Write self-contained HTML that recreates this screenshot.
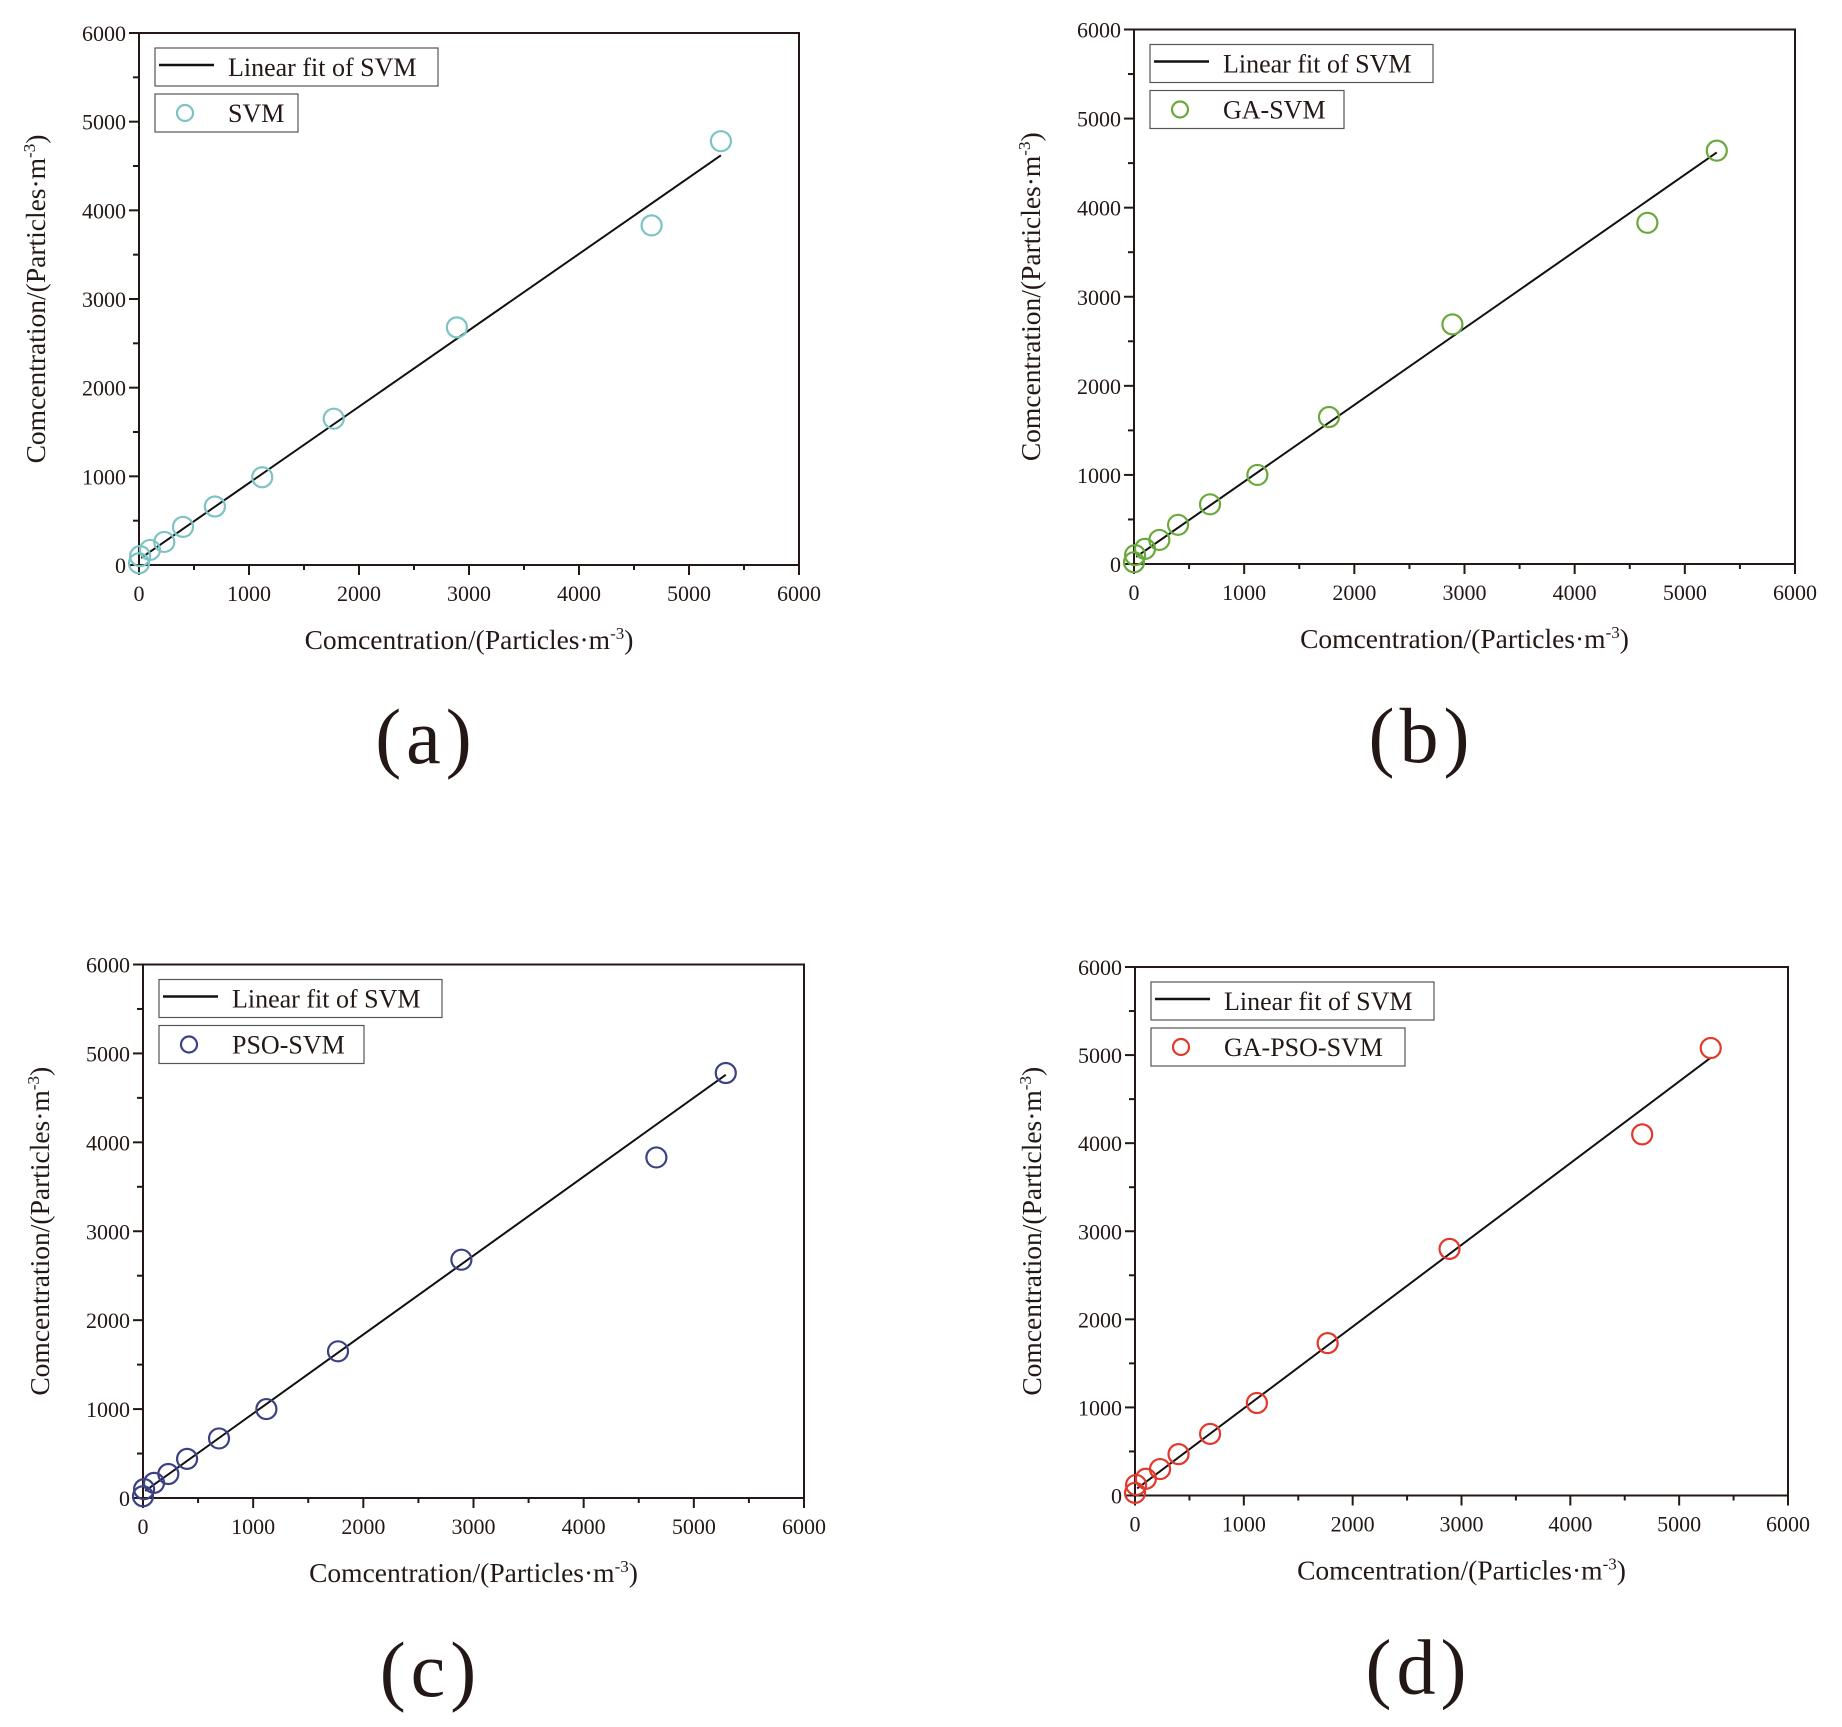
<!DOCTYPE html>
<html><head><meta charset="utf-8">
<style>
html,body{margin:0;padding:0;background:#fff;}
svg text{font-family:"Liberation Serif",serif;fill:#231815;}
</style></head>
<body>
<svg id="s" width="1842" height="1722" viewBox="0 0 1842 1722" xmlns="http://www.w3.org/2000/svg"></svg>
<script>
const NS="http://www.w3.org/2000/svg";
const svg=document.getElementById('s');
function el(t,a,txt){const e=document.createElementNS(NS,t);for(const k in a)e.setAttribute(k,a[k]);if(txt!==undefined)e.textContent=txt;svg.appendChild(e);return e;}
const xs=[0,10,100,230,400,690,1120,1770,2890,4660,5290];
const panels=[
 {L:139,T:33,R:799,B:565,c:'#7dc3c3',name:'SVM',lab:'(a)',ys:[20,100,170,260,430,660,990,1650,2680,3830,4780],fit:[80,4620],lw:143},
 {L:1134,T:29.5,R:1795,B:564,c:'#6aa83c',name:'GA-SVM',lab:'(b)',ys:[20,100,170,270,440,670,1000,1650,2690,3830,4640],fit:[80,4620],lw:194},
 {L:143,T:964.5,R:804,B:1498,c:'#3b4183',name:'PSO-SVM',lab:'(c)',ys:[20,100,170,270,440,670,1000,1650,2680,3830,4780],fit:[80,4760],lw:205},
 {L:1135,T:967,R:1788,B:1495.5,c:'#e2392c',name:'GA-PSO-SVM',lab:'(d)',ys:[30,120,190,300,470,700,1050,1730,2800,4100,5080],fit:[80,4970],lw:254}
];
for(const p of panels){
 const X=v=>p.L+(p.R-p.L)*v/6000, Y=v=>p.B-(p.B-p.T)*v/6000;
 el('rect',{x:p.L,y:p.T,width:p.R-p.L,height:p.B-p.T,fill:'none',stroke:'#231815','stroke-width':2});
 for(let v=0;v<=6000;v+=500){
  const maj=v%1000===0;
  el('line',{x1:X(v),x2:X(v),y1:p.B,y2:p.B+(maj?10:5),stroke:'#231815','stroke-width':2});
  el('line',{y1:Y(v),y2:Y(v),x1:p.L,x2:p.L-(maj?10:6),stroke:'#231815','stroke-width':2});
  if(maj){
   el('text',{x:X(v),y:p.B+36,'font-size':22,'text-anchor':'middle'},String(v));
   el('text',{x:p.L-13,y:Y(v)+8,'font-size':22,'text-anchor':'end'},String(v));
  }
 }
 const cx=(p.L+p.R)/2;
 const t=el('text',{x:cx,y:p.B+84,'font-size':27.5,'text-anchor':'middle'});
 t.innerHTML='Comcentration/(Particles·m<tspan dy="-10" font-size="17">-3</tspan><tspan dy="10">)</tspan>';
 const cy=(p.T+p.B)/2;
 const t2=el('text',{x:0,y:0,'font-size':27.5,'text-anchor':'middle',transform:`translate(${p.L-94},${cy}) rotate(-90)`});
 t2.innerHTML='Comcentration/(Particles·m<tspan dy="-10" font-size="17">-3</tspan><tspan dy="10">)</tspan>';
 el('text',{x:cx-43,y:p.B+198,'font-size':78,'text-anchor':'middle','letter-spacing':5},p.lab);
 el('line',{x1:X(20),y1:Y(p.fit[0]),x2:X(5290),y2:Y(p.fit[1]),stroke:'#111','stroke-width':2});
 for(let i=0;i<xs.length;i++) el('circle',{cx:X(xs[i]),cy:Y(p.ys[i]),r:10,fill:'none',stroke:p.c,'stroke-width':2.2});
 const lx=p.L+16, ly=p.T+15;
 el('rect',{x:lx,y:ly,width:283,height:38,fill:'#fff',stroke:'#555','stroke-width':1.2});
 el('line',{x1:lx+4,x2:lx+59,y1:ly+17,y2:ly+17,stroke:'#111','stroke-width':2.5});
 el('text',{x:lx+73,y:ly+28,'font-size':26},'Linear fit of SVM');
 el('rect',{x:lx,y:ly+46,width:p.lw,height:38,fill:'#fff',stroke:'#555','stroke-width':1.2});
 el('circle',{cx:lx+30,cy:ly+65,r:8,fill:'none',stroke:p.c,'stroke-width':2.2});
 el('text',{x:lx+73,y:ly+74,'font-size':26},p.name);
}
</script>
</body></html>
